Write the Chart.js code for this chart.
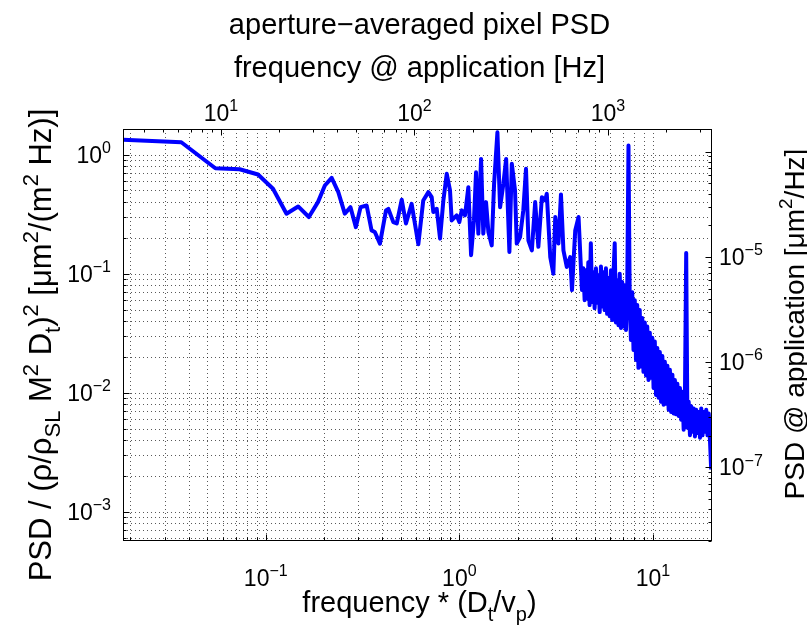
<!DOCTYPE html>
<html><head><meta charset="utf-8">
<script src="https://cdn.jsdelivr.net/npm/chart.js@4.4.0/dist/chart.umd.min.js"></script>
<style>html,body{margin:0;padding:0;background:#fff;} canvas{display:block;}</style>
</head><body>
<canvas id="c" width="807" height="634" style="width:807px;height:634px"></canvas>
<script>
// ---- data ----
const freq = [
0.0183, 0.0366, 0.0549, 0.0733, 0.0912, 0.109, 0.128, 0.147, 0.167, 0.186,
0.202, 0.219, 0.237, 0.256, 0.274, 0.292, 0.309, 0.332, 0.352, 0.366,
0.389, 0.418, 0.430, 0.456, 0.475, 0.504, 0.530, 0.567, 0.614, 0.651,
0.692, 0.720, 0.734, 0.764, 0.795, 0.827, 0.861, 0.895, 0.913, 0.969,
1.000, 1.029, 1.070, 1.113, 1.150, 1.190, 1.220, 1.254, 1.295, 1.330,
1.374, 1.413, 1.470, 1.512, 1.573, 1.624, 1.689, 1.745, 1.814, 1.867,
1.940, 1.980, 2.060, 2.140, 2.210, 2.275, 2.370, 2.465, 2.560, 2.670,
2.776, 2.830, 2.950, 3.060, 3.130, 3.250, 3.350, 3.450, 3.590, 3.740,
3.820, 3.970, 4.130, 4.300,
4.37, 4.44, 4.51, 4.57, 4.64, 4.71, 4.78, 4.85, 4.93, 5.00,
5.08, 5.15, 5.23, 5.31, 5.39, 5.47, 5.55, 5.63, 5.72, 5.80,
5.89, 5.98, 6.07, 6.16, 6.25, 6.35, 6.44, 6.54, 6.64, 6.74,
6.84, 6.94, 7.04, 7.15, 7.26, 7.37, 7.48, 7.59, 7.70, 7.82,
7.94, 8.06, 8.18, 8.30, 8.42, 8.55, 8.68, 8.81, 8.94, 9.08,
9.21, 9.35, 9.49, 9.64, 9.78, 9.93, 10.08, 10.23, 10.38, 10.54,
10.70, 10.86, 11.02, 11.19, 11.36, 11.53, 11.70, 11.88, 12.06, 12.24,
12.42, 12.61, 12.80, 12.99, 13.19, 13.38, 13.59, 13.79, 14.00, 14.21,
14.42, 14.64, 14.86, 15.08, 15.31, 15.54, 15.77, 16.01, 16.25, 16.49,
16.74, 16.99, 17.25, 17.51, 17.77, 18.04, 18.31, 18.58, 18.86, 19.15,
19.43, 19.72, 20.0
];
const psd = [
1.33, 1.27, 0.768, 0.753, 0.68, 0.516, 0.319, 0.367, 0.299, 0.399,
0.55, 0.638, 0.484, 0.319, 0.362, 0.246, 0.362, 0.374, 0.231, 0.224,
0.179, 0.34, 0.35, 0.271, 0.264, 0.418, 0.264, 0.386, 0.177, 0.412,
0.484, 0.439, 0.329, 0.351, 0.197, 0.412, 0.69, 0.5, 0.28, 0.309,
0.271, 0.34, 0.309, 0.533, 0.143, 0.28, 0.711, 0.217, 0.92, 0.217,
0.399, 0.224, 0.173, 0.569, 1.537, 0.362, 0.569, 0.92, 0.152, 0.836,
0.5, 0.179, 0.203, 0.34, 0.759, 0.19, 0.157, 0.399, 0.168, 0.439,
0.412, 0.469, 0.138, 0.1, 0.299, 0.179, 0.463, 0.157, 0.114, 0.138,
0.0728, 0.231, 0.299, 0.073,
0.111, 0.060, 0.107, 0.062, 0.125, 0.0545, 0.18, 0.058, 0.103, 0.0514,
0.111, 0.057, 0.097, 0.0476, 0.115, 0.053, 0.103, 0.0495, 0.111, 0.046,
0.092, 0.044, 0.107, 0.0408, 0.095, 0.18, 0.039, 0.0883, 0.037, 0.100,
0.035, 0.085, 0.036, 0.080, 0.0337, 0.0756, 1.19, 0.060, 0.0278, 0.070,
0.0229, 0.060, 0.0189, 0.0545, 0.0162, 0.0495, 0.0166, 0.0424, 0.015, 0.039,
0.014, 0.036, 0.0128, 0.032, 0.0134, 0.029, 0.011, 0.027, 0.0096, 0.0238,
0.0091, 0.022, 0.0084, 0.0204, 0.00794, 0.0182, 0.0081, 0.0169, 0.0072, 0.0156,
0.0069, 0.0142, 0.0067, 0.0128, 0.0066, 0.0119, 0.0064, 0.011, 0.00594, 0.0102,
0.0049, 0.0094, 0.149, 0.0051, 0.0084, 0.0044, 0.0077, 0.0047, 0.0074, 0.0043,
0.0072, 0.0046, 0.0069, 0.0042, 0.0074, 0.0044, 0.0069, 0.0047, 0.0072, 0.0044,
0.0067, 0.0040, 0.00227
];
const bottomTicks = [0.1, 1, 10];
const topTicks = [10, 100, 1000];
const leftTicks = [1, 0.1, 0.01, 0.001];
const rightTicks = [1e-5, 1e-6, 1e-7];
const xRange = [0.0183, 20.2];
const yRange = [5.7e-4, 1.64];
const topRange = [3.12, 3446];
const rightRange = [2.0e-8, 1.64e-4];

const titleText = 'aperture−averaged pixel PSD';
const topLabel = 'frequency @ application [Hz]';
const bottomLabel = [['frequency * (D',0],['t',-1],['/v',0],['p',-1],[')',0]];
const leftLabel = [['PSD / (ρ/ρ',0],['SL',-1],[' M',0],['2',1],[' D',0],['t',-1],[')',0],['2',1],[' [μm',0],['2',1],['/(m',0],['2',1],[' Hz)]',0]];
const rightLabel = [['PSD @ application [μm',0],['2',1],['/Hz]',0]];

// ---- drawing helpers ----
const FONT = '"Liberation Sans", Arial, Helvetica, sans-serif';
const TICK = {base: 23, small: 16};
const LAB = {base: 29, small: 20};
const LEFTLAB = {base: 31, small: 22};
const RIGHTLAB = {base: 28, small: 19};
function setFont(ctx, size){ ctx.font = size + 'px ' + FONT; }
function richMeasure(ctx, segs, S){ let w = 0; for (const [t,m] of segs){ setFont(ctx, m ? S.small : S.base); w += ctx.measureText(t).width; } return w; }
function richDraw(ctx, segs, x, y, align, S){
  const w = richMeasure(ctx, segs, S);
  let cx = align === 'center' ? x - w/2 : (align === 'right' ? x - w : x);
  ctx.textAlign = 'left'; ctx.textBaseline = 'alphabetic'; ctx.fillStyle = '#000';
  for (const [t,m] of segs){
    setFont(ctx, m ? S.small : S.base);
    const dy = m === 1 ? -0.42*S.base : (m === -1 ? 0.3*S.base : 0);
    ctx.fillText(t, cx, y + dy);
    cx += ctx.measureText(t).width;
  }
}
function expLabel(v){ const e = Math.round(Math.log10(v)); return [['10',0],[String(e).replace('-','−'),1]]; }
function logPositions(min, max){
  const out = [];
  for (let e = Math.floor(Math.log10(min)); e <= Math.ceil(Math.log10(max)); e++){
    for (let k = 1; k <= 9; k++){
      const v = k * Math.pow(10, e);
      if (v >= min*0.9999 && v <= max*1.0001) out.push({v, major: k === 1});
    }
  }
  return out;
}

const axesPlugin = {
  id: 'matlabAxes',
  beforeDatasetsDraw(chart){
    const {ctx, chartArea: a, scales} = chart;
    ctx.save();
    ctx.strokeStyle = 'rgba(0,0,0,0.65)';
    ctx.lineWidth = 1;
    ctx.setLineDash([1,3]);
    for (const p of logPositions(scales.x.min, scales.x.max)){
      const px = Math.round(scales.x.getPixelForValue(p.v)) + 0.5;
      ctx.beginPath(); ctx.moveTo(px, a.top); ctx.lineTo(px, a.bottom); ctx.stroke();
    }
    for (const p of logPositions(scales.y.min, scales.y.max)){
      const py = Math.round(scales.y.getPixelForValue(p.v)) + 0.5;
      ctx.beginPath(); ctx.moveTo(a.left, py); ctx.lineTo(a.right, py); ctx.stroke();
    }
    ctx.restore();
  },
  afterDatasetsDraw(chart){
    const {ctx, chartArea: a, scales} = chart;
    ctx.save();
    ctx.strokeStyle = '#000'; ctx.lineWidth = 1; ctx.setLineDash([]);
    const L = Math.round(a.left)+0.5, R = Math.round(a.right)-0.5, T = Math.round(a.top)+0.5, B = Math.round(a.bottom)-0.5;
    ctx.strokeRect(L, T, R-L, B-T);
    const MAJ = 6, MIN = 3;
    ctx.beginPath();
    for (const p of logPositions(scales.x.min, scales.x.max)){
      const px = Math.round(scales.x.getPixelForValue(p.v)) + 0.5; const len = p.major ? MAJ : MIN;
      ctx.moveTo(px, B); ctx.lineTo(px, B - len);
    }
    for (const p of logPositions(scales.x2.min, scales.x2.max)){
      const px = Math.round(scales.x2.getPixelForValue(p.v)) + 0.5; const len = p.major ? MAJ : MIN;
      ctx.moveTo(px, T); ctx.lineTo(px, T + len);
    }
    for (const p of logPositions(scales.y.min, scales.y.max)){
      const py = Math.round(scales.y.getPixelForValue(p.v)) + 0.5; const len = p.major ? MAJ : MIN;
      ctx.moveTo(L, py); ctx.lineTo(L + len, py);
    }
    for (const p of logPositions(scales.y2.min, scales.y2.max)){
      const py = Math.round(scales.y2.getPixelForValue(p.v)) + 0.5; const len = p.major ? MAJ : MIN;
      ctx.moveTo(R, py); ctx.lineTo(R - len, py);
    }
    ctx.stroke();

    // tick labels
    for (const v of bottomTicks) richDraw(ctx, expLabel(v), scales.x.getPixelForValue(v), a.bottom + 45, 'center', TICK);
    for (const v of topTicks) richDraw(ctx, expLabel(v), scales.x2.getPixelForValue(v), a.top - 8, 'center', TICK);
    for (const v of leftTicks) richDraw(ctx, expLabel(v), a.left - 12, scales.y.getPixelForValue(v) + 8, 'right', TICK);
    for (const v of rightTicks) richDraw(ctx, expLabel(v), a.right + 7, scales.y2.getPixelForValue(v) + 8, 'left', TICK);

    // axis titles
    const cx = (a.left + a.right) / 2 + 2;
    richDraw(ctx, [[titleText,0]], cx, 34, 'center', LAB);
    richDraw(ctx, [[topLabel,0]], cx, 77, 'center', LAB);
    richDraw(ctx, bottomLabel, cx, 612, 'center', LAB);
    ctx.save(); ctx.translate(51, 345); ctx.rotate(-Math.PI/2);
    richDraw(ctx, leftLabel, 0, 0, 'center', LEFTLAB); ctx.restore();
    ctx.save(); ctx.translate(804, 324); ctx.rotate(-Math.PI/2);
    richDraw(ctx, rightLabel, 0, 0, 'center', RIGHTLAB); ctx.restore();
    ctx.restore();
  }
};

const points = freq.map((f, i) => ({x: f, y: psd[i]}));
const hidden = {ticks:{display:false}, grid:{display:false}, border:{display:false}};
new Chart(document.getElementById('c'), {
  type: 'line',
  data: { datasets: [{
    data: points, borderColor: '#0000ff', borderWidth: 4, pointRadius: 0, tension: 0,
    fill: false, borderJoinStyle: 'round', borderCapStyle: 'butt', clip: 0,
    xAxisID: 'x', yAxisID: 'y'
  }]},
  options: {
    responsive: false, animation: false, devicePixelRatio: 1,
    layout: {padding: {left: 123, top: 129, right: 95, bottom: 93}},
    plugins: {legend: {display: false}, tooltip: {enabled: false}},
    scales: {
      x: Object.assign({type:'logarithmic', position:'bottom', min: xRange[0], max: xRange[1], display:false}, hidden),
      y: Object.assign({type:'logarithmic', position:'left', min: yRange[0], max: yRange[1], display:false}, hidden),
      x2: Object.assign({type:'logarithmic', position:'top', min: topRange[0], max: topRange[1], display:false}, hidden),
      y2: Object.assign({type:'logarithmic', position:'right', min: rightRange[0], max: rightRange[1], display:false}, hidden)
    }
  },
  plugins: [axesPlugin]
});
</script>
</body></html>
